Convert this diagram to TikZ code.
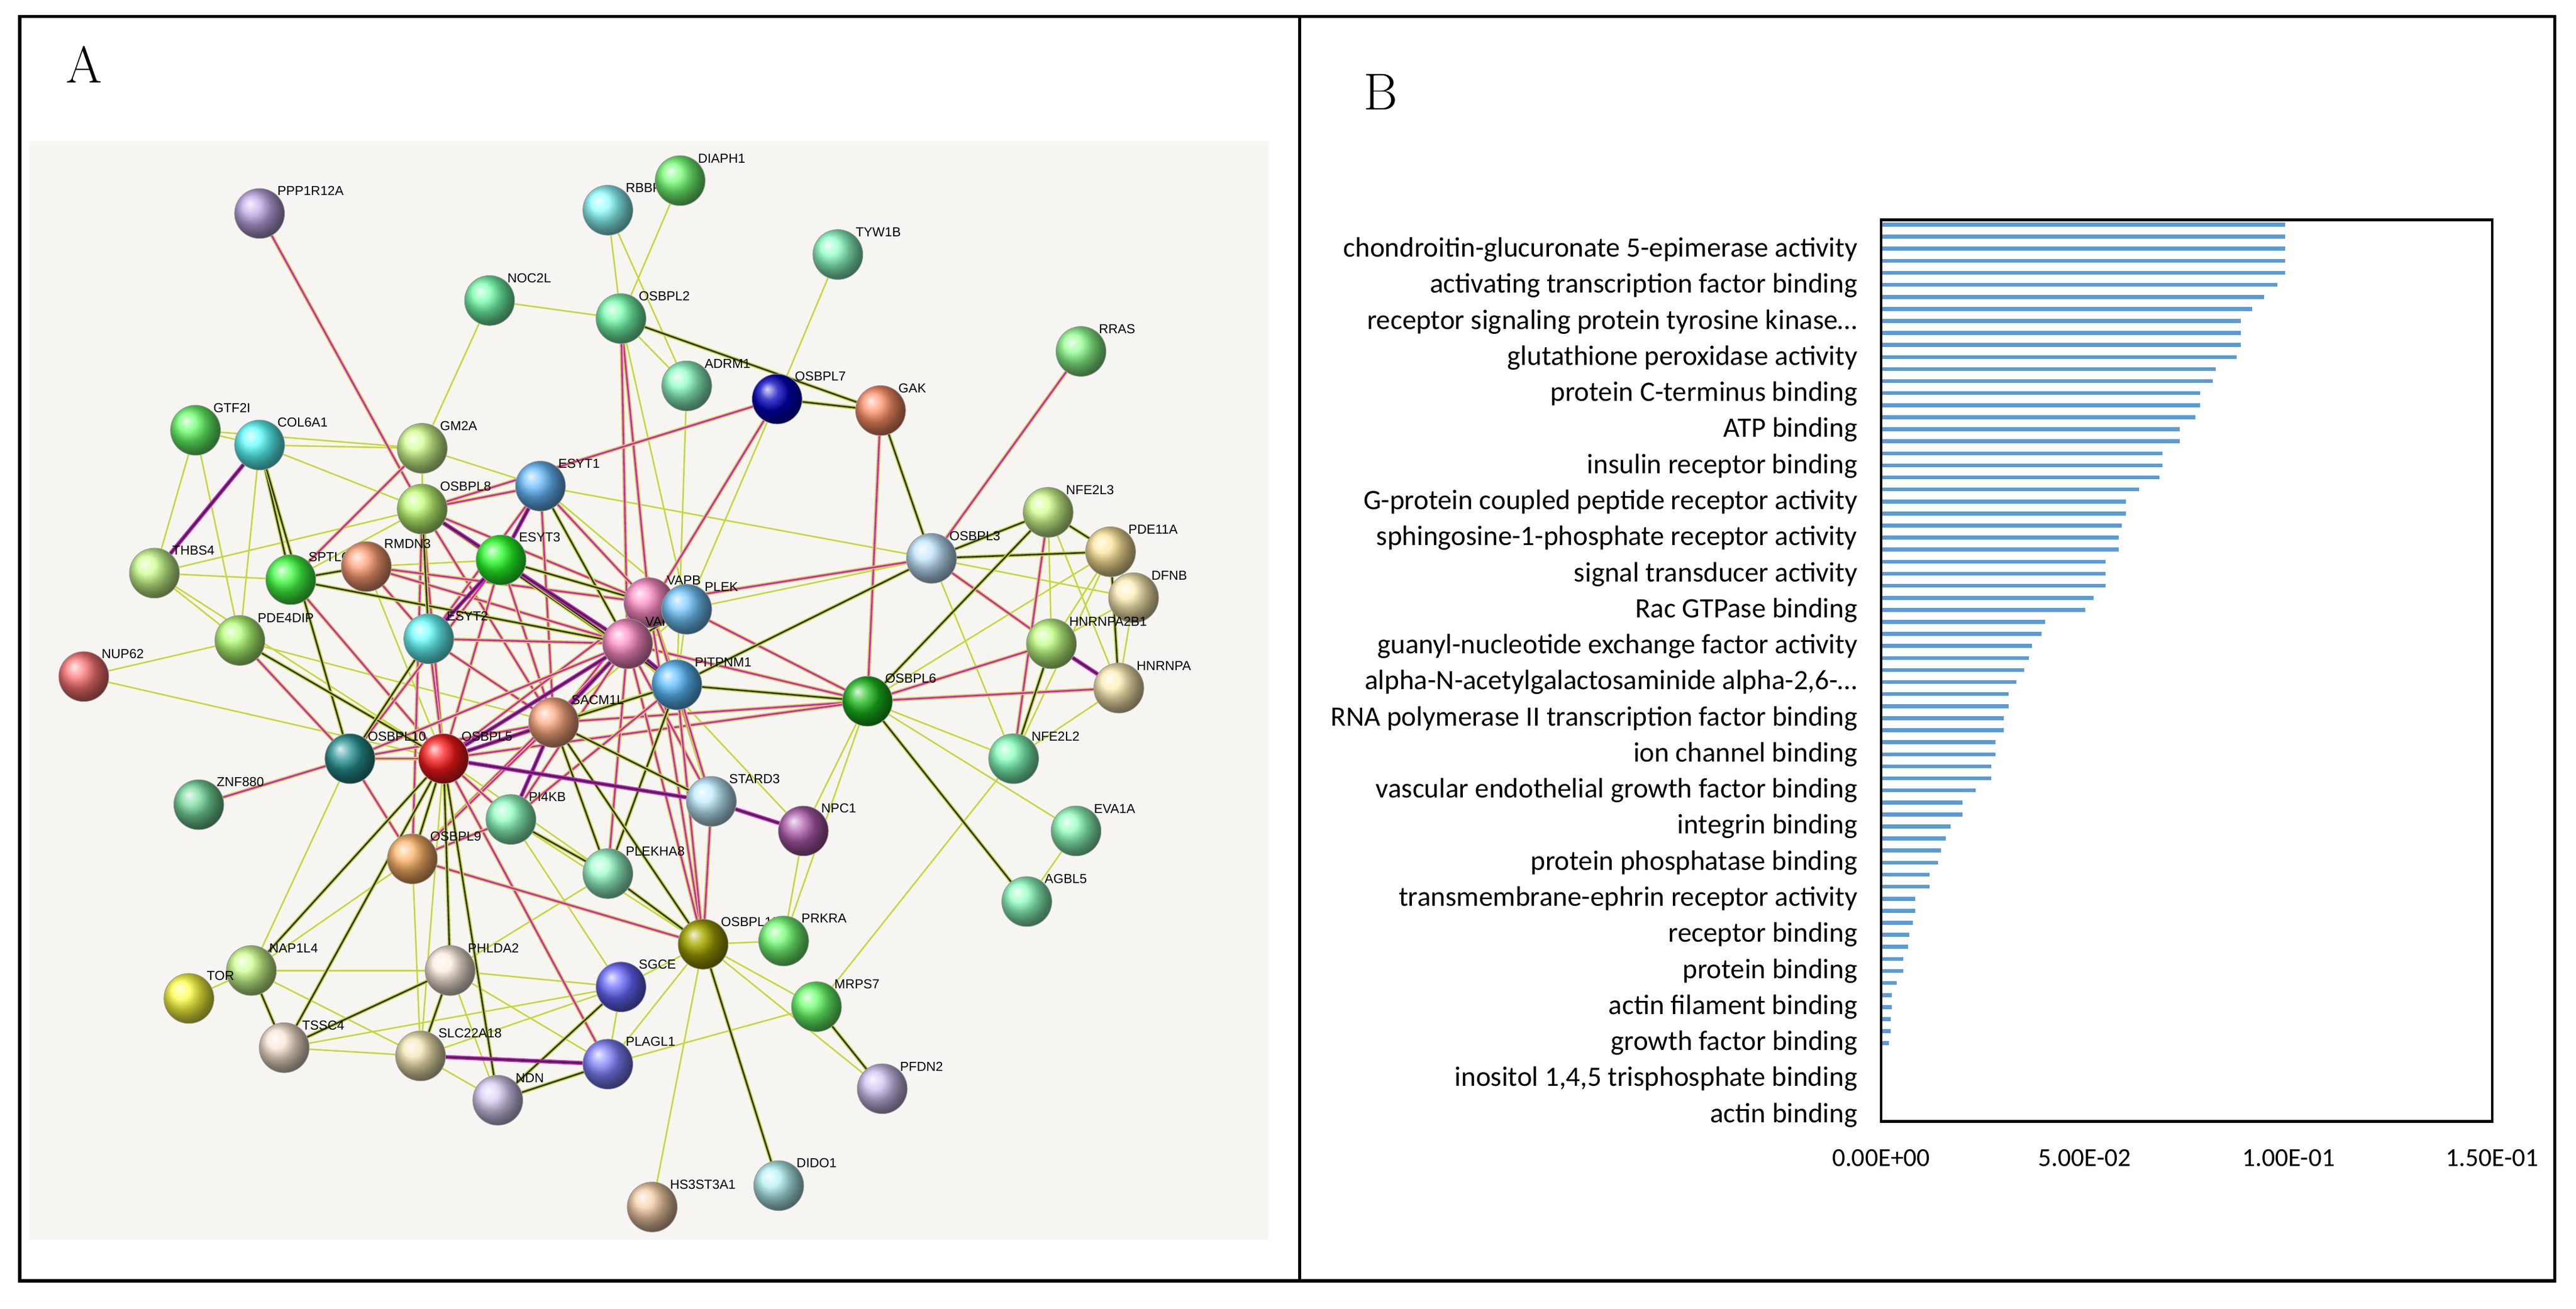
\documentclass[tikz,border=0pt]{standalone}
\usepackage{fontspec}
\newfontfamily\carlito{Carlito}
\newfontfamily\arialf{Liberation Sans}
\definecolor{tmc}{RGB}{196,216,60}
\definecolor{exc}{RGB}{220,20,220}
\definecolor{coc}{RGB}{50,50,50}
\definecolor{barc}{RGB}{91,155,213}
\definecolor{panelbg}{RGB}{246,245,241}
\pgfdeclarelayer{bg}
\pgfdeclarelayer{edges}
\pgfsetlayers{bg,edges,main}
\tikzset{
  gene/.style={circle,inner sep=0pt,minimum size=26,draw=black!40,line width=0.3pt},
  lbl/.style={font=\arialf\fontsize{6.8}{7}\selectfont,inner sep=0.5pt,label distance=-1pt},
  tm/.style={draw=tmc,line width=0.8pt},
  ex/.style={draw=tmc,double=exc,double distance=0.8pt,line width=0.55pt},
  co/.style={draw=tmc,double=coc,double distance=0.8pt,line width=0.55pt},
  al/.style={draw=exc,double=coc,double distance=0.9pt,line width=0.6pt},
  term/.style={font=\carlito\fontsize{14.6}{16}\selectfont,anchor=east,inner sep=1pt},
  tick/.style={font=\carlito\fontsize{13.5}{15}\selectfont,inner sep=1pt},
  panel/.style={font=\fontsize{27}{30}\selectfont,inner sep=0pt},
}
\begin{document}
\begin{tikzpicture}[x=0.3mm,y=-0.3mm]
\useasboundingbox (0,0) rectangle (1568,797);

% frame
\draw[line width=1.7pt] (12,10) rectangle (1555,780);
\draw[line width=1.7pt] (791,10) -- (791,780);
\node[panel,anchor=north west] (labA) at (40,28) {A};
\node[panel,anchor=north west] (labB) at (830,45) {B};

% panel A: network
\begin{pgfonlayer}{bg}
\fill[panelbg] (18,86) rectangle (772,755);
\end{pgfonlayer}

\foreach \n/\x/\y/\c/\t in {
  PPP1R12A/158/130/{blue!45!violet!35!white}/PPP1R12A, RBBP8NL/370/128/{cyan!45!white}/RBBP8NL,
  DIAPH1/414/110/{green!55!white}/DIAPH1, TYW1B/510/155/{green!50!cyan!45!white}/TYW1B,
  NOC2L/298/183/{green!60!cyan!55!white}/NOC2L, OSBPL2/378/194/{green!60!cyan!55!white}/OSBPL2,
  ADRM1/418/235/{cyan!50!green!45!white}/ADRM1, OSBPL7/473/243/{blue!75!black}/OSBPL7,
  GAK/536/250/{red!45!orange!60!white}/GAK, RRAS/658/214/{green!45!white}/RRAS,
  GTF2I/119/262/{green!60!white}/GTF2I, COL6A1/158/271/{cyan!65!white}/COL6A1,
  GM2A/257/273/{yellow!60!green!45!white}/GM2A, ESYT1/329/296/{blue!45!cyan!60!white}/ESYT1,
  OSBPL8/257/310/{yellow!55!green!55!white}/OSBPL8, THBS4/94/349/{yellow!55!green!45!white}/THBS4,
  SPTLC1/177/353/{green!75!white}/SPTLC1, RMDN3/223/345/{red!40!orange!55!white}/RMDN3,
  ESYT3/305/341/{green!85!white}/ESYT3, VAPB/395/367/{red!50!magenta!45!white}/VAPB,
  VAPA/382/392/{red!50!magenta!45!white}/VAP, PLEK/418/371/{blue!40!cyan!55!white}/PLEK,
  OSBPL3/567/340/{cyan!60!blue!25!white}/OSBPL3, NFE2L3/638/312/{yellow!60!green!45!white}/NFE2L3,
  PDE11A/676/336/{yellow!50!orange!40!white}/PDE11A, DFNB/690/364/{yellow!55!orange!30!white}/DFNB,
  HNRNPA2B1/640/392/{green!50!yellow!50!white}/HNRNPA2B1, HNRNPA/681/419/{yellow!55!orange!30!white}/HNRNPA,
  PDE4DIP/146/390/{green!55!yellow!55!white}/PDE4DIP, ESYT2/261/389/{cyan!60!white}/ESYT2,
  NUP62/51/412/{red!55!white}/NUP62, PITPNM1/412/417/{blue!40!cyan!65!white}/PITPNM1,
  OSBPL6/528/427/{green!70!black!90}/OSBPL6, NFE2L2/617/462/{green!55!cyan!50!white}/NFE2L2,
  SACM1L/337/440/{red!35!orange!50!white}/SACM1L, OSBPL10/213/462/{teal!85}/OSBPL10,
  OSBPL5/270/462/{red!90}/OSBPL5, ZNF880/121/490/{teal!55!green!55!white}/ZNF880,
  STARD3/433/488/{cyan!70!blue!25!white}/STARD3, NPC1/489/506/{violet!65!white}/NPC1,
  EVA1A/655/506/{cyan!40!green!45!white}/EVA1A, PI4KB/311/499/{cyan!45!green!45!white}/PI4KB,
  OSBPL9/251/523/{orange!60!white}/OSBPL9, PLEKHA8/370/532/{cyan!50!green!40!white}/PLEKHA8,
  AGBL5/625/549/{green!55!cyan!45!white}/AGBL5, OSBPL11/428/575/{olive!75}/OSBPL11,
  PRKRA/477/573/{green!55!white}/PRKRA, NAP1L4/153/591/{green!45!yellow!45!white}/NAP1L4,
  TOR/115/608/{yellow!75!white}/TOR, PHLDA2/274/591/{orange!50!brown!15!white}/PHLDA2,
  SGCE/378/601/{blue!60!white}/SGCE, MRPS7/497/613/{green!60!white}/MRPS7,
  TSSC4/173/638/{orange!45!brown!20!white}/TSSC4, SLC22A18/256/643/{yellow!45!brown!35!white}/SLC22A18,
  PLAGL1/370/648/{blue!50!white}/PLAGL1, NDN/303/670/{blue!55!violet!20!white}/NDN,
  PFDN2/537/663/{blue!55!violet!25!white}/PFDN2, DIDO1/474/722/{cyan!65!teal!30!white}/DIDO1,
  HS3ST3A1/397/735/{orange!55!brown!40!white}/HS3ST3A1}
  \node[gene,ball color=\c,label={[lbl]45:\t}] (\n) at (\x,\y) {};

\begin{pgfonlayer}{edges}
\foreach \a/\b in {RBBP8NL/OSBPL2, RBBP8NL/ADRM1, DIAPH1/OSBPL2, NOC2L/OSBPL2, NOC2L/GM2A,
  OSBPL2/ADRM1, OSBPL2/PLEK, ADRM1/PITPNM1, TYW1B/OSBPL7, OSBPL7/PLEK, OSBPL3/PLEK,
  OSBPL3/NFE2L2, OSBPL3/DFNB, NFE2L3/HNRNPA2B1, NFE2L3/HNRNPA, PDE11A/DFNB,
  PDE11A/HNRNPA2B1, PDE11A/OSBPL6, PDE11A/NFE2L2, DFNB/HNRNPA2B1, DFNB/HNRNPA,
  HNRNPA/NFE2L2, OSBPL6/NPC1, OSBPL6/PRKRA, OSBPL6/EVA1A, OSBPL6/NFE2L2, NFE2L2/MRPS7,
  EVA1A/AGBL5, GTF2I/COL6A1, GTF2I/THBS4, GTF2I/GM2A, GTF2I/PDE4DIP, COL6A1/GM2A,
  COL6A1/OSBPL8, COL6A1/PDE4DIP, GM2A/OSBPL8, GM2A/ESYT1, THBS4/SPTLC1, THBS4/PDE4DIP,
  THBS4/OSBPL8, THBS4/OSBPL5, SPTLC1/OSBPL8, PDE4DIP/SACM1L, NUP62/PDE4DIP, NUP62/OSBPL5,
  ESYT1/OSBPL3, ESYT1/PLEK, RMDN3/OSBPL5, RMDN3/ESYT3, VAPA/NPC1, PLEK/PITPNM1,
  PLEK/SACM1L, PLEK/OSBPL5, OSBPL10/NAP1L4, OSBPL5/PLEKHA8, OSBPL5/SLC22A18,
  OSBPL9/NAP1L4, OSBPL9/SLC22A18, PI4KB/OSBPL11, PI4KB/SGCE, NPC1/PRKRA, PLEKHA8/PHLDA2,
  OSBPL11/PRKRA, OSBPL11/SGCE, OSBPL11/MRPS7, OSBPL11/PFDN2, OSBPL11/HS3ST3A1,
  OSBPL11/PLAGL1, MRPS7/PLAGL1, NAP1L4/TOR, NAP1L4/PHLDA2, NAP1L4/SLC22A18, PHLDA2/SGCE,
  PHLDA2/NDN, PHLDA2/PLAGL1, TSSC4/SLC22A18, TSSC4/SGCE, SLC22A18/NDN, SLC22A18/SGCE,
  SGCE/PLAGL1}
  \draw[tm] (\a) -- (\b);
\foreach \a/\b in {PPP1R12A/OSBPL8, OSBPL2/VAPB, OSBPL2/VAPA, OSBPL7/VAPA, OSBPL7/OSBPL8,
  GAK/OSBPL6, RRAS/OSBPL3, OSBPL3/HNRNPA2B1, OSBPL3/VAPB, NFE2L3/NFE2L2,
  HNRNPA2B1/OSBPL6, HNRNPA/OSBPL6, OSBPL6/VAPA, OSBPL6/PLEK, OSBPL6/SACM1L, OSBPL6/OSBPL5,
  GM2A/SPTLC1, SPTLC1/OSBPL5, PDE4DIP/OSBPL10, OSBPL8/ESYT1, OSBPL8/VAPB, OSBPL8/SACM1L,
  OSBPL8/OSBPL5, OSBPL8/OSBPL9, ESYT1/ESYT2, ESYT1/VAPB, ESYT1/SACM1L, RMDN3/VAPA,
  RMDN3/VAPB, RMDN3/ESYT2, ESYT3/VAPA, ESYT3/SACM1L, ESYT3/OSBPL5, ESYT3/OSBPL10,
  ESYT2/VAPA, ESYT2/SACM1L, ESYT2/OSBPL5, VAPB/SACM1L, VAPB/OSBPL5, VAPB/PITPNM1,
  VAPB/OSBPL11, VAPB/STARD3, VAPA/OSBPL10, VAPA/OSBPL9, VAPA/PI4KB, VAPA/STARD3,
  VAPA/PLEKHA8, VAPA/OSBPL11, PITPNM1/PI4KB, PITPNM1/OSBPL11, PITPNM1/STARD3,
  SACM1L/OSBPL10, SACM1L/OSBPL9, OSBPL10/OSBPL5, OSBPL10/ZNF880, OSBPL10/OSBPL9,
  OSBPL5/PI4KB, OSBPL5/PLAGL1, OSBPL9/PI4KB, OSBPL9/OSBPL11, STARD3/OSBPL11}
  \draw[ex] (\a) -- (\b);
\foreach \a/\b in {OSBPL2/GAK, OSBPL7/GAK, GAK/OSBPL3, OSBPL3/NFE2L3, OSBPL3/PDE11A,
  OSBPL3/PITPNM1, NFE2L3/PDE11A, NFE2L3/OSBPL6, PDE11A/HNRNPA, HNRNPA2B1/NFE2L2,
  OSBPL6/PITPNM1, OSBPL6/AGBL5, COL6A1/SPTLC1, COL6A1/OSBPL10, SPTLC1/RMDN3, SPTLC1/VAPA,
  PDE4DIP/OSBPL5, OSBPL8/ESYT3, OSBPL8/ESYT2, OSBPL8/PITPNM1, ESYT1/VAPA, ESYT3/VAPB,
  ESYT3/PITPNM1, ESYT2/OSBPL10, VAPB/PLEK, VAPA/PLEK, PITPNM1/SACM1L, PITPNM1/OSBPL5,
  PITPNM1/PLEKHA8, SACM1L/PLEKHA8, SACM1L/OSBPL11, SACM1L/STARD3, OSBPL5/OSBPL9,
  OSBPL5/PHLDA2, OSBPL5/NDN, OSBPL5/TSSC4, OSBPL5/NAP1L4, PI4KB/PLEKHA8, PLEKHA8/OSBPL11,
  OSBPL11/DIDO1, MRPS7/PFDN2, NAP1L4/TSSC4, PHLDA2/TSSC4, PHLDA2/SLC22A18, SGCE/NDN,
  NDN/PLAGL1}
  \draw[co] (\a) -- (\b);
\foreach \a/\b in {HNRNPA2B1/HNRNPA, COL6A1/THBS4, OSBPL8/VAPA, ESYT1/ESYT3, ESYT3/ESYT2,
  VAPB/VAPA, VAPA/SACM1L, VAPA/OSBPL5, VAPA/PITPNM1, SACM1L/OSBPL5, SACM1L/PI4KB,
  OSBPL5/STARD3, STARD3/NPC1, SLC22A18/PLAGL1}
  \draw[al] (\a) -- (\b);
\end{pgfonlayer}

% panel B: bar chart
\foreach \v [count=\i] in {245.8,245.8,245.8,245.8,245.8,241.1,233.3,225.8,219.1,219.1,
  219.1,216.3,203.7,201.8,194.3,194.3,191.2,181.7,181.7,171.4,171.4,169.5,156.9,149.1,
  149.1,146.6,144.6,144.6,136.8,136.8,136.8,129.3,124.3,99.8,97.8,92.0,90.0,87.2,82.2,
  77.5,77.5,74.7,74.7,69.7,69.7,66.9,66.9,57.4,49.6,49.6,42.1,39.5,36.6,34.6,29.6,29.6,
  20.9,20.9,19.2,17.1,16.3,13.4,13.4,9.6,6.7,6.7,5.8,5.8,4.9,0.6}
  \fill[barc] (1145,{136.8+7.33*(\i-1)-1.2}) rectangle ({1145+\v},{136.8+7.33*(\i-1)+1.2});
\draw[line width=1.5pt] (1145,134) rectangle (1517,683);

\foreach \t [count=\i] in {{chondroitin-glucuronate 5-epimerase activity},
  {activating transcription factor binding},
  {receptor signaling protein tyrosine kinase…},
  {glutathione peroxidase activity},
  {protein C-terminus binding},
  {ATP binding},
  {insulin receptor binding},
  {G-protein coupled peptide receptor activity},
  {sphingosine-1-phosphate receptor activity},
  {signal transducer activity},
  {Rac GTPase binding},
  {guanyl-nucleotide exchange factor activity},
  {alpha-N-acetylgalactosaminide alpha-2,6-…},
  {RNA polymerase II transcription factor binding},
  {ion channel binding},
  {vascular endothelial growth factor binding},
  {integrin binding},
  {protein phosphatase binding},
  {transmembrane-ephrin receptor activity},
  {receptor binding},
  {protein binding},
  {actin filament binding},
  {growth factor binding},
  {inositol 1,4,5 trisphosphate binding},
  {actin binding}}
  \node[term] (term\i) at (1132,{152+21.96*(\i-1)}) {\t};

\foreach \x/\t [count=\i] in {1145/0.00E+00,1269/5.00E-02,1393/1.00E-01,1517/1.50E-01}
  \node[tick] (tick\i) at (\x,705) {\t};
\end{tikzpicture}
\end{document}
